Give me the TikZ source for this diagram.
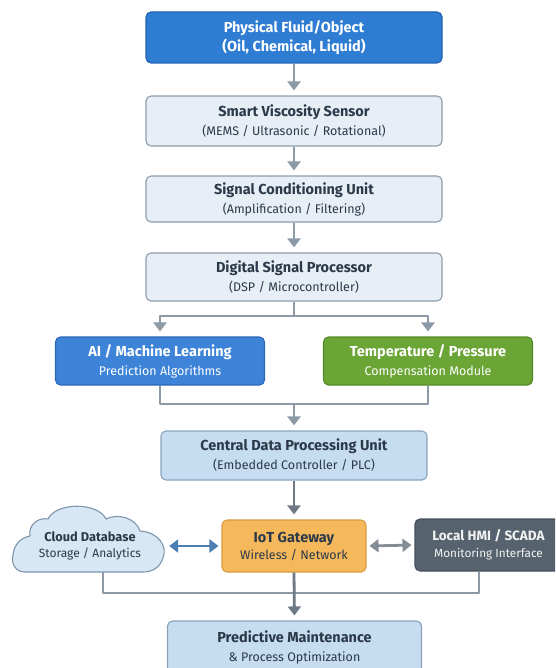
\documentclass[tikz,border=0pt]{standalone}
\usepackage{fontspec}
\setmainfont{Fira Sans}
\usetikzlibrary{arrows.meta}
\definecolor{fluidblue}{HTML}{2F7DD3}
\definecolor{fluidedge}{HTML}{1F62B0}
\definecolor{paleface}{HTML}{E7EEF6}
\definecolor{paleedge}{HTML}{8E9CAB}
\definecolor{aiblue}{HTML}{3D83D8}
\definecolor{aiedge}{HTML}{2B68B5}
\definecolor{compgreen}{HTML}{6AA535}
\definecolor{compedge}{HTML}{548A27}
\definecolor{cpuface}{HTML}{C6DDF1}
\definecolor{cpuedge}{HTML}{8AA3BB}
\definecolor{iotface}{HTML}{F5B95C}
\definecolor{iotedge}{HTML}{D99B3F}
\definecolor{cloudface}{HTML}{D8E7F5}
\definecolor{cloudedge}{HTML}{7E95AC}
\definecolor{hmiface}{HTML}{56626D}
\definecolor{hmiedge}{HTML}{46505A}
\definecolor{inkdark}{HTML}{2B3949}
\definecolor{inksoft}{HTML}{3E4955}
\definecolor{linkgray}{HTML}{8C99A7}
\definecolor{linkdark}{HTML}{6E7985}
\definecolor{linkblue}{HTML}{4A7EB4}
\newcommand{\subline}[1]{{\fontsize{12.5}{19}\selectfont #1}}
\begin{document}
\begin{tikzpicture}[x=1pt, y=-1pt, >={Triangle[length=9pt,width=13pt]}, line join=round,
	font=\fontsize{14.5}{19}\selectfont,
	block/.style={draw, rounded corners=5pt, line width=1.1pt, align=center, inner sep=0pt, minimum width=296pt, text=inkdark},
	pale/.style={block, fill=paleface, draw=paleedge},
	link/.style={draw=linkgray, line width=2.8pt, shorten >=5pt}]
	\useasboundingbox (0,0) rectangle (555,668);
	\clip (0,0) rectangle (555,668);
	% cloud outline (drawn first, text node on top)
	\draw[fill=cloudface, draw=cloudedge, line width=1.1pt]
		(25,572) .. controls (15,572) and (11,563) .. (13,555)
		.. controls (14,545) and (20,538) .. (30,536)
		.. controls (28,525) and (38,517) .. (48,519)
		.. controls (56,502) and (98,502) .. (106,519)
		.. controls (118,513) and (136,518) .. (140,531)
		.. controls (158,532) and (168,546) .. (163,558)
		.. controls (160,567) and (153,572) .. (143,572) -- cycle;
	% main chain
	\node[block, fill=fluidblue, draw=fluidedge, text=white, minimum height=51pt] (fluid) at (294,37.5)
		{\textbf{Physical Fluid/Object}\\\textbf{(Oil, Chemical, Liquid)}};
	\node[pale, minimum height=50pt] (sensor) at (294,121) {\textbf{Smart Viscosity Sensor}\\\subline{(MEMS / Ultrasonic / Rotational)}};
	\node[pale, minimum height=46pt] (signal) at (294,199) {\textbf{Signal Conditioning Unit}\\\subline{(Amplification / Filtering)}};
	\node[pale, minimum height=48pt] (dsp) at (294,277) {\textbf{Digital Signal Processor}\\\subline{(DSP / Microcontroller)}};
	\node[block, fill=aiblue, draw=aiedge, text=white, minimum width=209pt, minimum height=48pt] (ai) at (160,361)
		{\textbf{AI / Machine Learning}\\\subline{Prediction Algorithms}};
	\node[block, fill=compgreen, draw=compedge, text=white, minimum width=209pt, minimum height=48pt] (comp) at (428,361)
		{\textbf{Temperature / Pressure}\\\subline{Compensation Module}};
	\node[block, fill=cpuface, draw=cpuedge, minimum width=266pt, minimum height=49pt] (cpu) at (294,455.5)
		{\textbf{Central Data Processing Unit}\\\subline{(Embedded Controller / PLC)}};
	% gateway row
	\node[block, fill=iotface, draw=iotedge, minimum width=144pt, minimum height=52pt, font=\fontsize{14.5}{17}\selectfont] (iot) at (294,546)
		{\textbf{IoT Gateway}\\\subline{Wireless / Network}};
	\node[align=center, inner sep=0pt, minimum width=152pt, minimum height=52pt, text=inkdark, font=\fontsize{12.8}{15.5}\selectfont] (cloud) at (90,546)
		{\textbf{Cloud Database}\\{\fontsize{12}{15.5}\selectfont Storage / Analytics}};
	\node[block, fill=hmiface, draw=hmiedge, text=white!92!hmiface, minimum width=147pt, minimum height=52pt, font=\fontsize{13.5}{17}\selectfont] (hmi) at (488.5,545)
		{\textbf{Local HMI / SCADA}\\{\fontsize{11.8}{17}\selectfont Monitoring Interface}};
	\node[block, fill=cpuface, draw=cpuedge, minimum width=254pt, minimum height=52pt] (goal) at (294.5,647)
		{\textbf{Predictive Maintenance}\\\subline{\& Process Optimization}};
	% connectors
	\draw[link,->] (fluid.south) -- (sensor.north);
	\draw[link,->] (sensor.south) -- (signal.north);
	\draw[link,->] (signal.south) -- (dsp.north);
	\coordinate (split) at (294,316);
	\draw[link, shorten >=0pt] (dsp.south) -- (split);
	\draw[link,->] (split) -| (ai.north);
	\draw[link,->] (split) -| (comp.north);
	\coordinate (join) at (294,404);
	\draw[link, shorten >=0pt] (ai.south) |- (join) -| (comp.south);
	\draw[link,->] (join) -- (cpu.north);
	\draw[link, draw=linkdark, ->] (cpu.south) -- (iot.north);
	\draw[link, draw=linkblue, <->, shorten <=3pt, shorten >=3pt] (cloud.east) -- (iot.west);
	\draw[link, draw=linkdark!85, <->, shorten <=3pt, shorten >=3pt] (iot.east) -- (hmi.west);
	\coordinate (merge) at (294,593);
	\draw[link, shorten >=0pt] ([xshift=13pt]cloud.south) |- (merge) -| ([xshift=-9.5pt]hmi.south);
	\draw[link, draw=linkdark, ->] (iot.south) -- (goal.north);
\end{tikzpicture}
\end{document}
